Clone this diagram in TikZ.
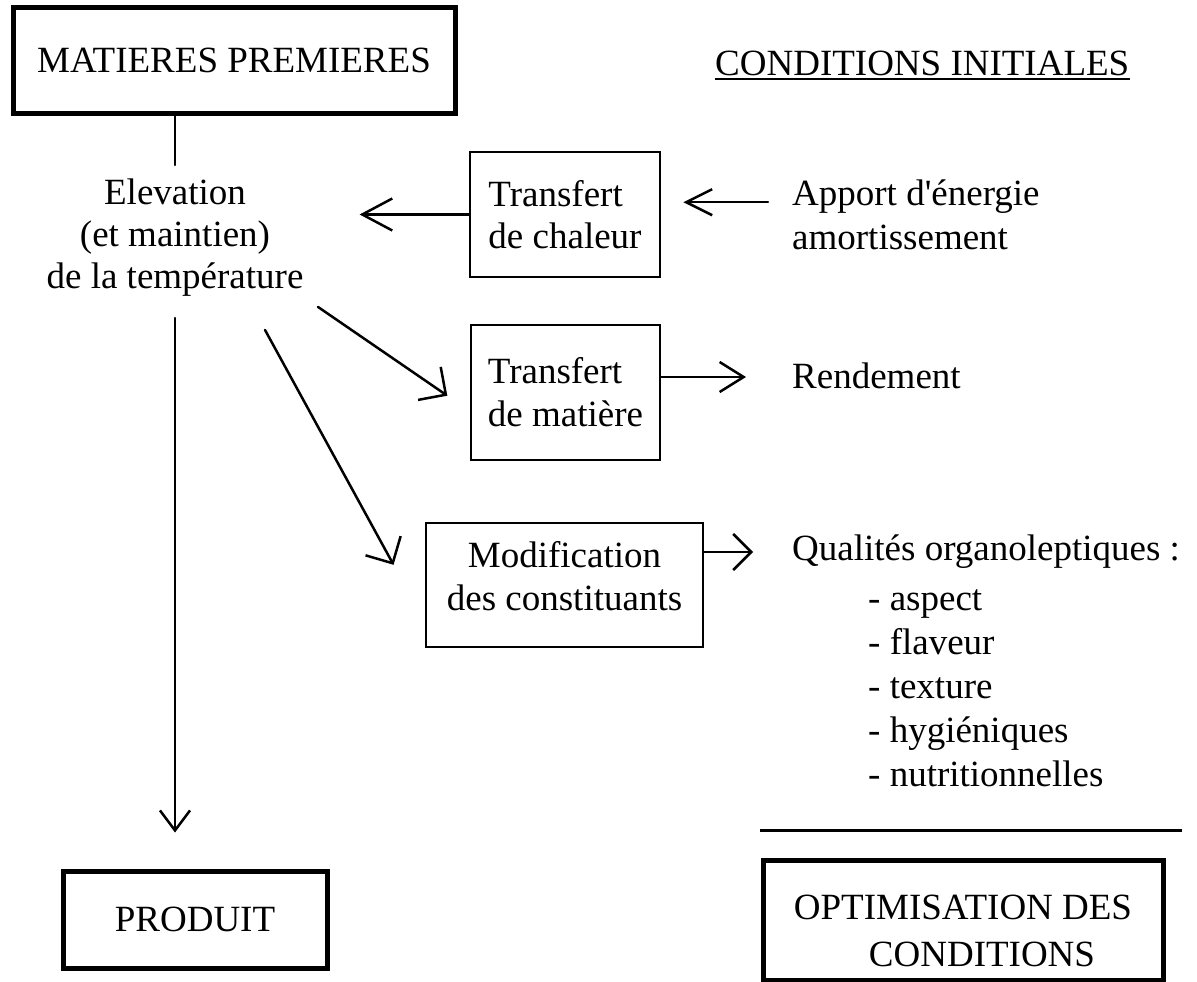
\documentclass[tikz,border=0pt]{standalone}
\usepackage{fontspec}
\setmainfont{Liberation Serif}
\usetikzlibrary{arrows.meta}
\begin{document}
\begin{tikzpicture}[x=1pt,y=-1pt,
  every node/.style={font=\fontsize{37}{44}\selectfont, inner sep=0pt},
  bigbox/.style={draw, line width=5pt},
  smallbox/.style={draw, line width=2.8pt},
  plain/.style={line width=2.5pt, line cap=round}]

\fill[white] (0,0) rectangle (1197,982);
\useasboundingbox (0,0) rectangle (1197,982);

% boxes and texts
\node[bigbox, minimum width=442pt, minimum height=105pt] (mp) at (234,60.5) {MATIERES PREMIERES};
\node[anchor=base west] (ci) at (715,75) {CONDITIONS INITIALES};
\draw[line width=2.5pt] ([yshift=-4pt]ci.base west) -- ([yshift=-4pt]ci.base east);

\node[align=center, anchor=north] (el) at (175,179) {Elevation\\[-2pt](et maintien)\\[-2pt]de la température};

\node[smallbox, minimum width=190pt, minimum height=125pt, align=left] (tc) at (565,214.5) {Transfert\\[-2pt]de chaleur};
\node[anchor=north west, align=left] (ap) at (792,180) {Apport d\textquotesingle énergie\\amortissement};

\node[smallbox, minimum width=189pt, minimum height=135pt, align=left] (tm) at (565.5,392.5) {Transfert\\[-1pt]de matière};
\node[anchor=base west] (rd) at (792,388) {Rendement};

\node[smallbox, minimum width=277pt, minimum height=124pt, align=center] (mc) at (564.5,585) {Modification\\[-1pt]des constituants\rule[-18pt]{0pt}{0pt}};

\node[anchor=north west, align=left] (ql) at (792,535) {Qualités organoleptiques :\\[6pt]
  \hspace*{76pt}- aspect\\
  \hspace*{76pt}- flaveur\\
  \hspace*{76pt}- texture\\
  \hspace*{76pt}- hygiéniques\\
  \hspace*{76pt}- nutritionnelles};

\node[bigbox, minimum width=264pt, minimum height=97pt] (pr) at (195,919.5) {PRODUIT};

\draw[line width=3pt] (760,830) -- (1182,830);

\node[bigbox, minimum width=400pt, minimum height=120pt, align=left] (op) at (963,920) {\rule{0pt}{47pt}OPTIMISATION DES\\[3pt]\hspace*{75pt}CONDITIONS};

% connectors
\draw[plain] (el.north |- mp.south) -- ([yshift=14pt]el.north);
\draw[plain, -{Straight Barb[length=20pt,width=30pt]}, shorten <=21pt, shorten >=36pt] (el.south) -- (el.south |- pr.north);
\draw[plain, -{Straight Barb[length=30pt,width=32pt]}, shorten >=56pt] (tc.west) -- (tc.west -| el.east);
\draw[plain, -{Straight Barb[length=26pt,width=26pt]}, shorten <=24pt, shorten >=22pt] ([yshift=13pt]ap.west) -- ([yshift=13pt]ap.west -| tc.east);
\draw[plain, -{Straight Barb[length=24pt,width=30pt]}, shorten >=46pt] ([yshift=15.5pt]tm.east) -- ([yshift=15.5pt]tm.east -| rd.west);
\draw[plain, -{Straight Barb[length=18pt,width=36pt]}, shorten >=39pt] ([yshift=33pt]mc.east) -- ([yshift=33pt]mc.east -| ql.west);
\draw[plain, -{Straight Barb[length=20pt,width=40pt]}, shorten >=27pt] ([shift={(143,10)}]el.south) -- ([yshift=-18.5pt]tm.west);
\draw[plain, -{Straight Barb[length=20pt,width=40pt]}, shorten >=23pt] ([shift={(90,33)}]el.south) -- ([xshift=-20pt]mc.west);
\end{tikzpicture}
\end{document}
